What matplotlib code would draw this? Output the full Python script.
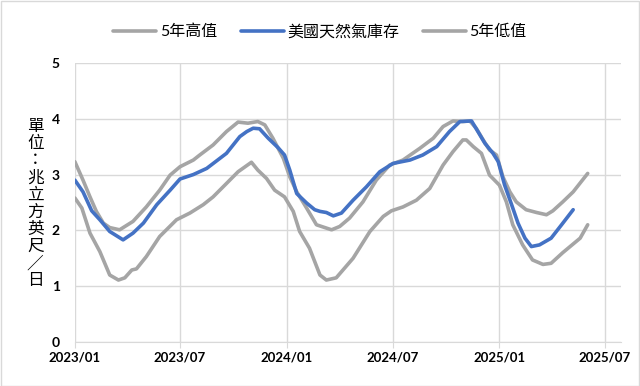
import pandas as pd
import matplotlib.pyplot as plt
import matplotlib.dates as mdates
from matplotlib.patches import Rectangle

plt.rcParams['font.family'] = ['Lato', 'Noto Sans CJK TC', 'DejaVu Sans']

# 5-year high
high_dates = ["2023-01-01", "2023-01-15", "2023-01-27", "2023-02-07", "2023-02-19", "2023-03-02",
              "2023-03-19", "2023-04-11", "2023-05-04", "2023-05-27", "2023-06-14", "2023-07-01",
              "2023-07-24", "2023-08-04", "2023-08-27", "2023-09-19", "2023-10-09", "2023-10-26",
              "2023-11-12", "2023-11-24", "2023-12-08", "2023-12-26", "2024-01-06", "2024-01-18",
              "2024-02-04", "2024-02-21", "2024-03-18", "2024-04-01", "2024-04-18", "2024-05-11",
              "2024-06-03", "2024-06-26", "2024-07-19", "2024-08-17", "2024-09-09", "2024-09-26",
              "2024-10-13", "2024-10-30", "2024-11-11", "2024-11-22", "2024-12-04", "2024-12-15",
              "2024-12-27", "2025-01-07", "2025-01-19", "2025-01-30", "2025-02-16", "2025-03-06",
              "2025-03-23", "2025-04-03", "2025-04-20", "2025-05-08", "2025-06-02"]
high_vals = [3.23, 2.90, 2.60, 2.34, 2.13, 2.05,
             2.01, 2.16, 2.42, 2.72, 2.99, 3.14,
             3.26, 3.35, 3.53, 3.77, 3.94, 3.92,
             3.95, 3.89, 3.65, 3.29, 2.96, 2.69,
             2.40, 2.10, 2.01, 2.07, 2.22, 2.51,
             2.90, 3.17, 3.26, 3.47, 3.65, 3.86,
             3.96, 3.95, 3.96, 3.83, 3.62, 3.44,
             3.35, 2.96, 2.69, 2.51, 2.37, 2.32,
             2.28, 2.35, 2.51, 2.69, 3.02]

# US natural gas storage
stor_dates = ["2023-01-01", "2023-01-15", "2023-01-30", "2023-02-13", "2023-03-02", "2023-03-25",
              "2023-04-11", "2023-04-29", "2023-05-22", "2023-06-14", "2023-07-01", "2023-07-24",
              "2023-08-16", "2023-09-19", "2023-10-12", "2023-10-24", "2023-11-04", "2023-11-15",
              "2023-11-30", "2023-12-17", "2023-12-28", "2024-01-06", "2024-01-18", "2024-02-04",
              "2024-02-18", "2024-02-27", "2024-03-09", "2024-03-21", "2024-04-04", "2024-04-24",
              "2024-05-17", "2024-06-09", "2024-07-02", "2024-07-31", "2024-08-22", "2024-09-15",
              "2024-10-07", "2024-10-25", "2024-11-14", "2024-11-25", "2024-12-07", "2024-12-21",
              "2024-12-30", "2025-01-10", "2025-01-22", "2025-02-02", "2025-02-14", "2025-02-25",
              "2025-03-11", "2025-03-31", "2025-04-18", "2025-05-08"]
stor_vals = [2.90, 2.69, 2.35, 2.19, 1.98, 1.83,
             1.95, 2.13, 2.46, 2.72, 2.92, 3.00,
             3.11, 3.38, 3.68, 3.77, 3.83, 3.82,
             3.65, 3.48, 3.35, 3.08, 2.66, 2.49,
             2.37, 2.34, 2.32, 2.26, 2.31, 2.54,
             2.78, 3.05, 3.20, 3.26, 3.35, 3.50,
             3.77, 3.95, 3.96, 3.77, 3.56, 3.38,
             3.23, 2.81, 2.46, 2.13, 1.86, 1.71,
             1.74, 1.86, 2.10, 2.37]

# 5-year low
low_dates = ["2023-01-01", "2023-01-13", "2023-01-27", "2023-02-13", "2023-03-02", "2023-03-17",
             "2023-03-28", "2023-04-09", "2023-04-17", "2023-05-04", "2023-05-27", "2023-06-25",
             "2023-07-18", "2023-08-10", "2023-08-27", "2023-09-19", "2023-10-09", "2023-11-01",
             "2023-11-12", "2023-11-27", "2023-12-11", "2023-12-28", "2024-01-12", "2024-01-23",
             "2024-02-09", "2024-02-27", "2024-03-09", "2024-03-26", "2024-04-24", "2024-05-23",
             "2024-06-15", "2024-06-29", "2024-07-19", "2024-08-11", "2024-09-03", "2024-09-26",
             "2024-10-13", "2024-10-30", "2024-11-05", "2024-11-17", "2024-12-01", "2024-12-15",
             "2025-01-01", "2025-01-13", "2025-01-24", "2025-02-10", "2025-02-27", "2025-03-17",
             "2025-03-31", "2025-04-20", "2025-05-20", "2025-06-02"]
low_vals = [2.58, 2.40, 1.95, 1.62, 1.20, 1.11,
            1.15, 1.29, 1.31, 1.53, 1.89, 2.19,
            2.31, 2.46, 2.60, 2.84, 3.05, 3.22,
            3.08, 2.93, 2.72, 2.60, 2.34, 1.98,
            1.68, 1.20, 1.11, 1.15, 1.50, 1.98,
            2.25, 2.35, 2.42, 2.54, 2.75, 3.17,
            3.41, 3.62, 3.62, 3.50, 3.38, 2.99,
            2.81, 2.51, 2.10, 1.74, 1.47, 1.39,
            1.41, 1.60, 1.86, 2.10]

labels = ["5年高值", "美國天然氣庫存", "5年低值"]
grey = "#A5A5A5"
blue = "#4472C4"

fig = plt.figure(figsize=(6.4, 3.86), dpi=100)
ax = fig.add_axes([0.117, 0.114, 0.853, 0.723])

ax.plot(pd.to_datetime(high_dates), high_vals, color=grey, lw=2.6, label=labels[0], solid_capstyle='round')
ax.plot(pd.to_datetime(stor_dates), stor_vals, color=blue, lw=2.6, label=labels[1], solid_capstyle='round', zorder=3)
ax.plot(pd.to_datetime(low_dates), low_vals, color=grey, lw=2.6, label=labels[2], solid_capstyle='round')

ax.set_ylim(0, 5)
ax.set_xlim(pd.Timestamp("2023-01-01"), pd.Timestamp("2025-07-29"))
ax.set_yticks(range(6))
ax.xaxis.set_major_locator(mdates.MonthLocator(bymonth=[1, 7]))
ax.xaxis.set_major_formatter(mdates.DateFormatter('%Y/%m'))
ax.grid(True, color="#D9D9D9", lw=1)
ax.set_axisbelow(True)
for s in ["top", "right", "left"]:
    ax.spines[s].set_visible(False)
ax.spines["bottom"].set_color("#D9D9D9")
ax.tick_params(axis='y', length=0, pad=11, labelsize=10)
ax.tick_params(axis='x', length=4, color="#D9D9D9", pad=3, labelsize=9.5)
for t in ax.get_xticklabels() + ax.get_yticklabels():
    t.set_fontweight('bold')

# stacked vertical unit label
unit = "單位：兆立方英尺／日"
fig.text(0.055, 0.472, "\n".join(unit), ha='center', va='center', fontsize=12,
         family=['Noto Sans CJK TC'], linespacing=1.01)

fig.legend(loc='center', bbox_to_anchor=(0.5, 0.917), ncol=3, frameon=False,
           handlelength=2.7, columnspacing=1.5, handletextpad=0.2,
           prop={'family': ['Lato', 'Noto Sans CJK TC'], 'size': 11.5})

fig.patches.append(Rectangle((0.001, 0.001), 0.997, 0.997, transform=fig.transFigure,
                             fill=False, edgecolor="#D9D9D9", lw=1))

fig.savefig("out.png", dpi=100)
